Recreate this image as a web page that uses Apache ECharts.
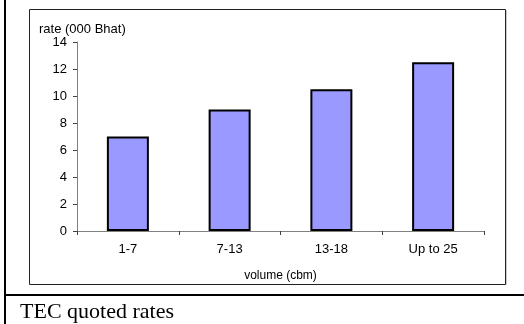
<!DOCTYPE html>
<html><head><meta charset="utf-8">
<script src="https://cdn.jsdelivr.net/npm/echarts@6/dist/echarts.min.js"></script>
<style>html,body{margin:0;padding:0;background:#fff}#c{width:524px;height:324px}</style>
</head><body><div id="c"></div>
<script>
const categories = ['1-7', '7-13', '13-18', 'Up to 25'];
const rates = [7, 9, 10.5, 12.5];
const yTicks = {min: 0, max: 14, interval: 2};

const chart = echarts.init(document.getElementById('c'), null, {renderer: 'canvas'});
const F = 'Liberation Sans, Arial, sans-serif';
chart.setOption({
  animation: false,
  backgroundColor: '#fff',
  grid: {left: 77, right: 40, top: 42, bottom: 93},
  xAxis: {
    type: 'category', data: categories, boundaryGap: true,
    axisLine: {show: true, lineStyle: {color: '#808080', width: 1}},
    axisTick: {show: true, length: 4, alignWithLabel: false, lineStyle: {color: '#404040'}},
    axisLabel: {color: '#000', fontFamily: F, fontSize: 13, margin: 12},
    name: 'volume (cbm)', nameLocation: 'middle', nameGap: 39,
    nameTextStyle: {color: '#000', fontFamily: F, fontSize: 12}
  },
  yAxis: {
    type: 'value', min: yTicks.min, max: yTicks.max, interval: yTicks.interval,
    axisLine: {show: true, lineStyle: {color: '#808080', width: 1}},
    axisTick: {show: true, length: 4, inside: false, lineStyle: {color: '#404040'}},
    splitLine: {show: false},
    axisLabel: {color: '#000', fontFamily: F, fontSize: 13, margin: 10}
  },
  series: [{
    type: 'bar', data: rates, barWidth: 42,
    itemStyle: {color: '#9999FF', borderColor: '#000', borderWidth: 2}
  }],
  graphic: [
    {type: 'rect', shape: {x: 29.5, y: 9.5, width: 476, height: 275}, style: {fill: null, stroke: '#222', lineWidth: 1}, z: -1},
    {type: 'line', shape: {x1: 506.5, y1: 10, x2: 506.5, y2: 285}, style: {stroke: '#ccc', lineWidth: 1}, z: -1},
    {type: 'line', shape: {x1: 5, y1: 0, x2: 5, y2: 324}, style: {stroke: '#000', lineWidth: 2}},
    {type: 'line', shape: {x1: 4, y1: 295, x2: 524, y2: 295}, style: {stroke: '#000', lineWidth: 2}},
    {type: 'text', x: 39, y: 29, style: {text: 'rate (000 Bhat)', fontFamily: F, fontSize: 13, fill: '#000', textVerticalAlign: 'middle'}},
    {type: 'text', x: 20, y: 312, style: {text: 'TEC quoted rates', fontFamily: 'Liberation Serif, Times New Roman, serif', fontSize: 22, fill: '#000', textVerticalAlign: 'middle'}}
  ]
});
</script></body></html>
